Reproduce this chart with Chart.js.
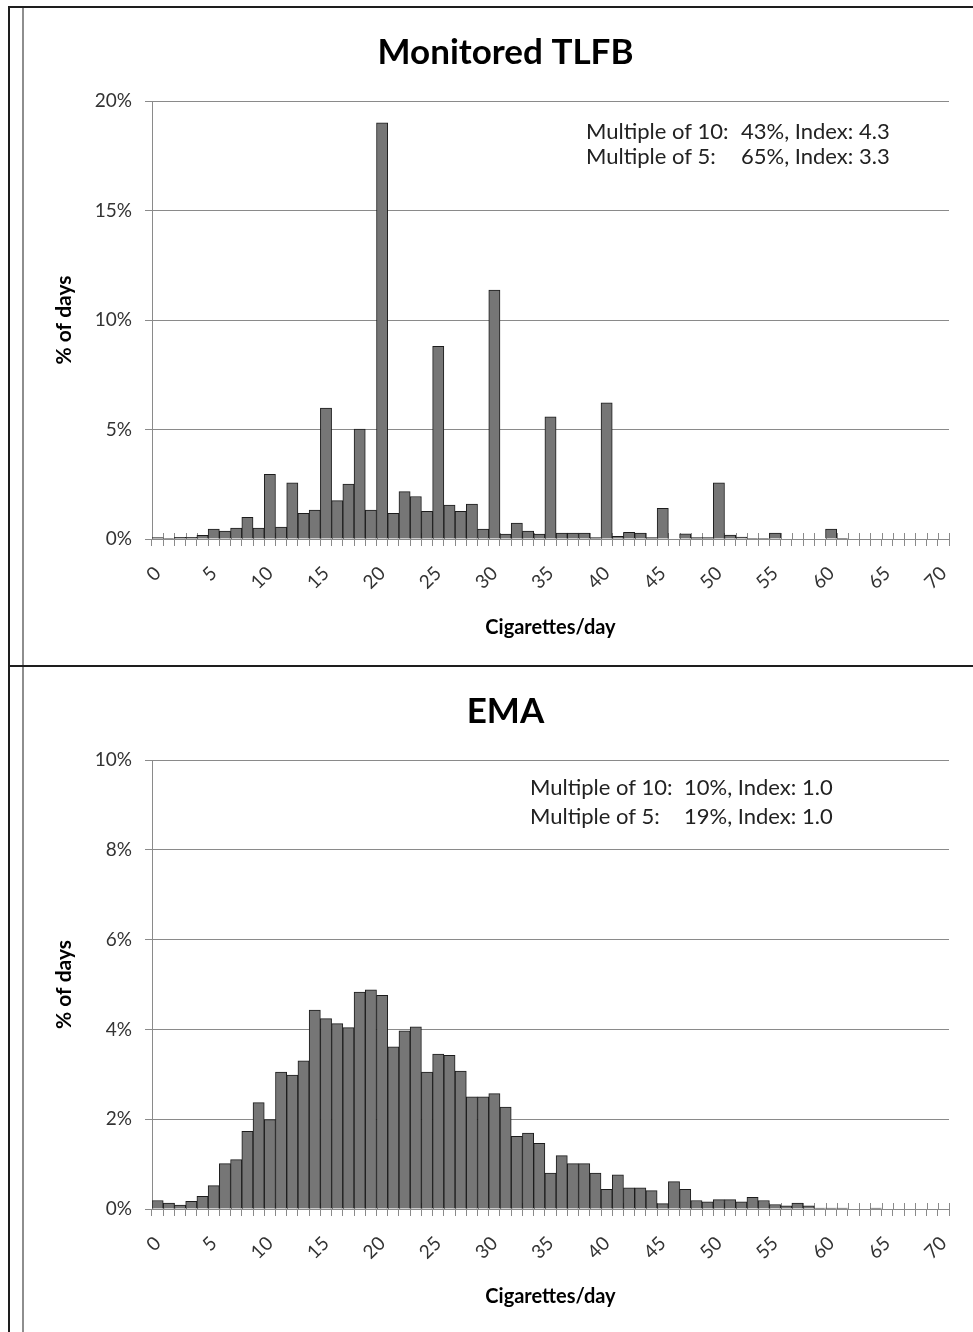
<!DOCTYPE html>
<html>
<head>
<meta charset="utf-8">
<title>Cigarettes/day</title>
<script src="https://cdn.jsdelivr.net/npm/chart.js@4.4.1/dist/chart.umd.min.js"></script>
<style>
html, body { margin: 0; padding: 0; background: #fff; overflow: hidden; }
body { width: 973px; height: 1332px; position: relative; }
.ln, canvas { position: absolute; }
</style>
</head>
<body>
<!-- frame lines -->
<div class="ln" style="left:8px;top:6px;width:2px;height:1326px;background:#1e1e1e"></div>
<div class="ln" style="left:22px;top:8px;width:2px;height:1324px;background:#8e8e8e"></div>
<div class="ln" style="left:8px;top:6px;width:965px;height:2px;background:#1e1e1e"></div>
<div class="ln" style="left:8px;top:665px;width:965px;height:2px;background:#1e1e1e"></div>

<canvas id="tlfb" width="963" height="656" style="left:24px;top:9px"></canvas>
<canvas id="ema" width="963" height="664" style="left:24px;top:668px"></canvas>

<script>
// categories (cigarettes per day)
const cigLabels = ['0','1','2','3','4','5','6','7','8','9','10','11','12','13','14','15','16','17','18','19',
  '20','21','22','23','24','25','26','27','28','29','30','31','32','33','34','35','36','37','38','39',
  '40','41','42','43','44','45','46','47','48','49','50','51','52','53','54','55','56','57','58','59',
  '60','61','62','63','64','65','66','67','68','69','70'];
// labels actually printed under the axis
const xTickLabels = ['0','5','10','15','20','25','30','35','40','45','50','55','60','65','70'];

// % of days, Monitored TLFB
const tlfbValues = [0.07, 0.02, 0.08, 0.08, 0.17, 0.45, 0.36, 0.50, 0.99, 0.50,
  2.95, 0.55, 2.56, 1.17, 1.32, 5.98, 1.75, 2.51, 5.02, 1.32,
  19.0, 1.17, 2.16, 1.94, 1.26, 8.80, 1.55, 1.26, 1.60, 0.45,
  11.37, 0.23, 0.73, 0.36, 0.23, 5.58, 0.27, 0.27, 0.27, 0.06,
  6.22, 0.12, 0.31, 0.27, 0.06, 1.40, 0, 0.24, 0.06, 0.06,
  2.57, 0.18, 0.09, 0.02, 0.02, 0.27, 0, 0, 0, 0,
  0.45, 0.03, 0, 0, 0, 0, 0, 0, 0, 0, 0];

// % of days, EMA
const emaValues = [0.19, 0.13, 0.09, 0.17, 0.28, 0.52, 1.01, 1.10, 1.73, 2.37,
  1.99, 3.05, 2.98, 3.30, 4.43, 4.24, 4.13, 4.04, 4.83, 4.88,
  4.76, 3.61, 3.97, 4.06, 3.05, 3.45, 3.42, 3.07, 2.50, 2.50,
  2.57, 2.27, 1.62, 1.69, 1.46, 0.80, 1.19, 1.01, 1.01, 0.80,
  0.44, 0.76, 0.47, 0.47, 0.41, 0.12, 0.61, 0.44, 0.19, 0.16,
  0.21, 0.21, 0.16, 0.26, 0.19, 0.10, 0.07, 0.13, 0.07, 0.02,
  0.02, 0.02, 0, 0, 0.02, 0, 0, 0, 0, 0, 0];

const tlfbNotes = [['Multiple of 10:', '43%, Index: 4.3'], ['Multiple of 5:', '65%, Index: 3.3']];
const emaNotes = [['Multiple of 10:', '10%, Index: 1.0'], ['Multiple of 5:', '19%, Index: 1.0']];

const FONT = 'Lato, "Open Sans", sans-serif';
Chart.defaults.font.family = FONT;
Chart.defaults.color = '#333';

// excel style tick marks that cross the x axis (drawn under the bars)
const crossTicks = {
	id: 'crossTicks',
	beforeDatasetsDraw(chart) {
		const xs = chart.scales.x;
		const ctx = chart.ctx;
		const n = chart.data.labels.length;
		const step = xs.width / n;
		ctx.save();
		ctx.strokeStyle = '#8a8a8a';
		ctx.lineWidth = 1;
		ctx.beginPath();
		for (let i = 0; i <= n; i++) {
			const x = Math.round(xs.left + i * step) + 0.5;
			ctx.moveTo(x, xs.top - 6);
			ctx.lineTo(x, xs.top);
		}
		ctx.stroke();
		ctx.restore();
	}
};

// the two text lines in the upper right of each plot
function makeNotes(lines, labelX, valueX, rows) {
	return {
		id: 'notes',
		afterDraw(chart) {
			const ctx = chart.ctx;
			const top = chart.chartArea.top;
			ctx.save();
			ctx.font = '22px ' + FONT;
			ctx.fillStyle = '#222';
			ctx.textBaseline = 'middle';
			lines.forEach((ln, i) => {
				ctx.fillText(ln[0], labelX, top + rows[i]);
				ctx.fillText(ln[1], valueX, top + rows[i]);
			});
			ctx.restore();
		}
	};
}

function drawChart(id, title, values, yMax, yStep, xHeight, xTitlePad, notes) {
	const config = {
		type: 'bar',
		data: {
			labels: cigLabels,
			datasets: [{
				data: values,
				backgroundColor: '#767676',
				borderColor: '#1c1c1c',
				borderWidth: 1,
				barPercentage: 1,
				categoryPercentage: 1
			}]
		},
		options: {
			responsive: false,
			animation: false,
			layout: { padding: 0 },
			plugins: {
				legend: { display: false },
				tooltip: { enabled: false },
				title: {
					display: true,
					text: title,
					color: '#000',
					font: { size: 35, weight: 'bold' },
					padding: { top: 23, bottom: 27 }
				}
			},
			scales: {
				x: {
					grid: { offset: true, drawOnChartArea: false, drawTicks: true, tickLength: 7, color: '#8a8a8a' },
					border: { color: '#8a8a8a' },
					ticks: {
						autoSkip: false,
						minRotation: 45,
						maxRotation: 45,
						padding: 16,
						color: '#333',
						font: { size: 19 },
						callback: (v, i) => xTickLabels.includes(cigLabels[i]) ? cigLabels[i] : ''
					},
					title: {
						display: true,
						text: 'Cigarettes/day',
						color: '#000',
						font: { size: 20, weight: 'bold' },
						padding: { top: 0, bottom: xTitlePad }
					},
					afterFit: s => { s.height = xHeight; }
				},
				y: {
					min: 0,
					max: yMax,
					ticks: {
						stepSize: yStep,
						padding: 13,
						color: '#333',
						font: { size: 19 },
						callback: v => v + '%'
					},
					grid: { color: '#8a8a8a', tickLength: 7 },
					border: { color: '#8a8a8a' },
					title: {
						display: true,
						text: '% of days',
						color: '#000',
						font: { size: 21, weight: 'bold' },
						padding: { top: 28, bottom: 0 }
					},
					afterFit: s => { s.width = 128; }
				},
				// empty strip on the right so the title centres on the whole frame
				spare: {
					position: 'right',
					display: true,
					grid: { display: false },
					border: { display: false },
					ticks: { display: false },
					afterFit: s => { s.width = 38; }
				}
			}
		},
		plugins: [crossTicks, notes]
	};
	return new Chart(document.getElementById(id), config);
}

drawChart('tlfb', 'Monitored TLFB', tlfbValues, 20, 5, 126, 25,
	makeNotes(tlfbNotes, 562, 717, [31, 56]));
drawChart('ema', 'EMA', emaValues, 10, 2, 123, 23,
	makeNotes(emaNotes, 506, 660, [28, 57]));
</script>
</body>
</html>
